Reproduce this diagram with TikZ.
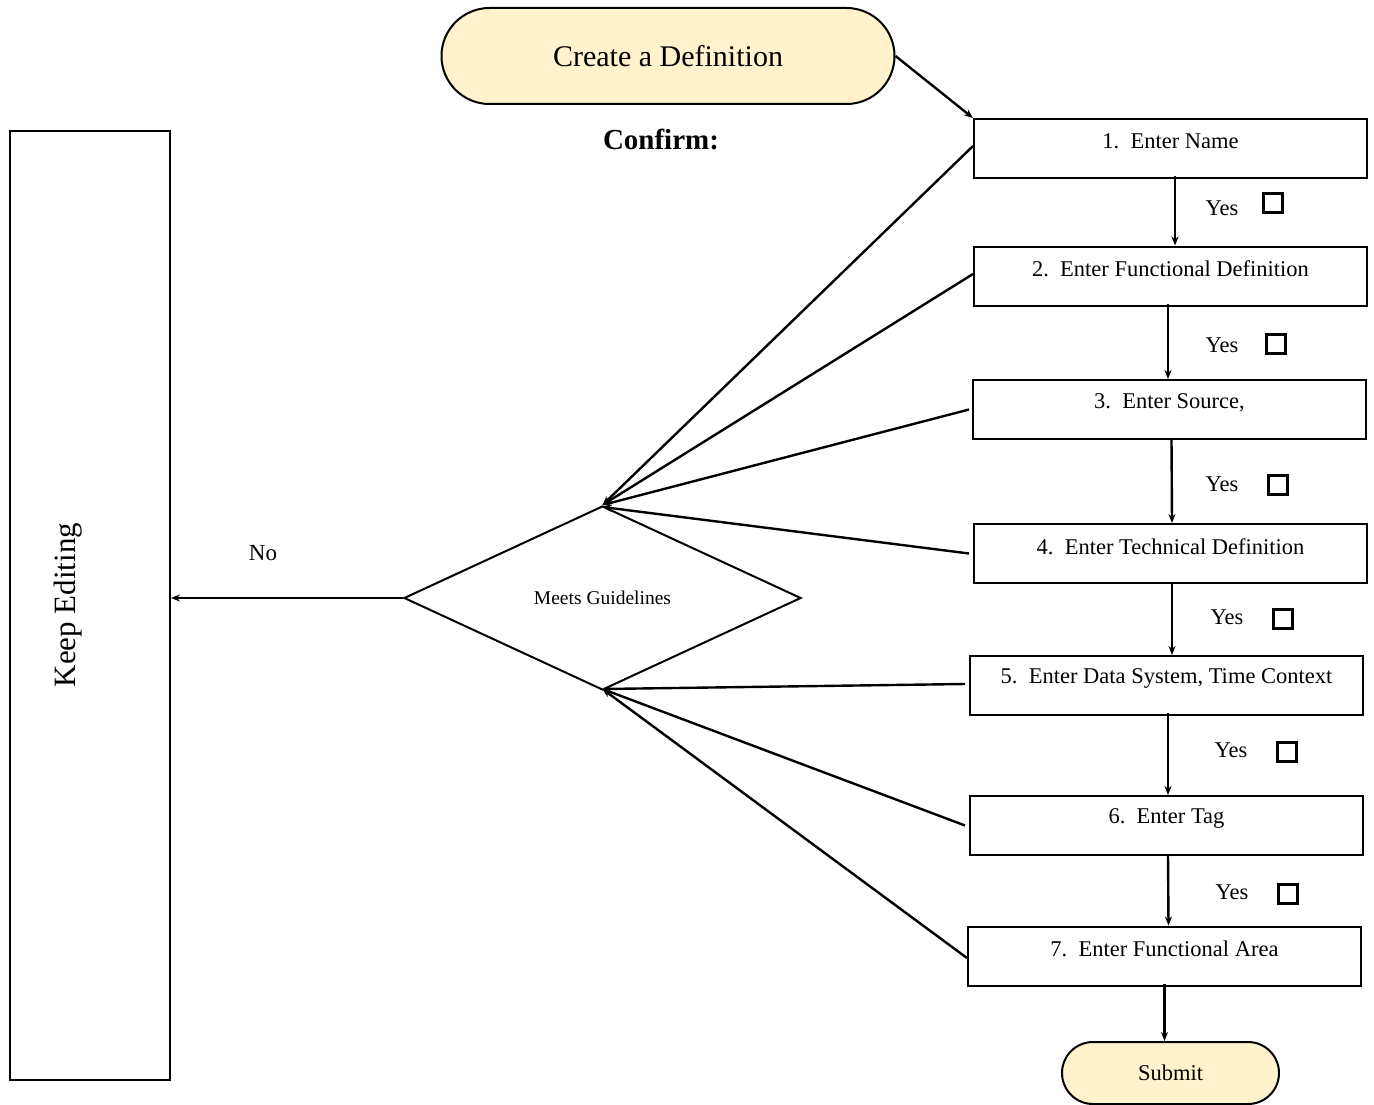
\documentclass[tikz,border=0pt]{standalone}
\usepackage{fontspec}
\setmainfont{Liberation Serif}
\usetikzlibrary{shapes.geometric,arrows.meta}
\definecolor{termfill}{RGB}{255,242,204}
\begin{document}
\begin{tikzpicture}[x=1pt,y=-1pt,
  stepbox/.style={draw,line width=2pt,minimum width=393pt,minimum height=59pt,inner sep=0pt},
  boxtext/.style={font=\fontsize{22.5}{26}\selectfont,inner sep=0pt},
  term/.style={draw,line width=2pt,fill=termfill,inner sep=0pt},
  arr/.style={line width=2.4pt,-{Stealth[length=9pt,width=7pt]}},
  yestext/.style={font=\fontsize{22.5}{26}\selectfont,inner sep=0pt},
  chk/.style={draw,line width=3pt,minimum width=19pt,minimum height=19pt,inner sep=0pt}
]
\useasboundingbox (0,0) rectangle (1374,1105);

% start terminal
\node[term,minimum width=453pt,minimum height=96pt,rounded corners=48pt,
  font=\fontsize{30}{34}\selectfont] (start) at (668,56) {Create a Definition};
\node[font=\bfseries\fontsize{29}{33}\selectfont,inner sep=0pt] (confirm) at (661,139) {Confirm:};

% step boxes
\node[stepbox] (b1) at (1170.5,148.5) {};
\node[stepbox] (b2) at (1170.5,276) {};
\node[stepbox] (b3) at (1169.5,409.5) {};
\node[stepbox] (b4) at (1170.5,553.5) {};
\node[stepbox] (b5) at (1166.5,685.5) {};
\node[stepbox] (b6) at (1166.5,825.5) {};
\node[stepbox] (b7) at (1164.5,956) {};

\node[boxtext] (t1) at ([yshift=7pt]b1.center) {1.\ \ Enter Name};
\node[boxtext] (t2) at ([yshift=7pt]b2.center) {2.\ \ Enter Functional Definition};
\node[boxtext] (t3) at ([yshift=7pt]b3.center) {3.\ \ Enter Source,};
\node[boxtext] (t4) at ([yshift=7pt]b4.center) {4.\ \ Enter Technical Definition};
\node[boxtext] (t5) at ([yshift=7pt]b5.center) {5.\ \ Enter Data System, Time Context};
\node[boxtext] (t6) at ([yshift=7pt]b6.center) {6.\ \ Enter Tag};
\node[boxtext] (t7) at ([yshift=7pt]b7.center) {7.\ \ Enter Functional Area};

% submit
\node[term,minimum width=217pt,minimum height=62pt,rounded corners=31pt,
  font=\fontsize{22.5}{26}\selectfont] (submit) at (1170.5,1073) {Submit};

% decision
\node[diamond,draw,line width=2pt,minimum width=397pt,minimum height=184pt,inner sep=0pt,
  font=\fontsize{19.5}{23}\selectfont] (dia) at (602.5,598) {Meets Guidelines};

% keep editing
\node[draw,line width=2pt,minimum width=160pt,minimum height=949pt,inner sep=0pt] (keep) at (90,605.5) {};
\node[rotate=90,font=\fontsize{31}{35}\selectfont,inner sep=0pt] (keeptext) at (68,605) {Keep Editing};
\node[font=\fontsize{23}{27}\selectfont,inner sep=0pt] (no) at (263,553) {No};

% yes labels and checkboxes
\node[yestext] (y1) at (1222,208) {Yes};
\node[chk] (c1) at (1273,203) {};
\node[yestext] (y2) at (1222,345) {Yes};
\node[chk] (c2) at (1276,344) {};
\node[yestext] (y3) at (1222,484) {Yes};
\node[chk] (c3) at (1278,485) {};
\node[yestext] (y4) at (1227,617) {Yes};
\node[chk] (c4) at (1283,619) {};
\node[yestext] (y5) at (1231,750) {Yes};
\node[chk] (c5) at (1287,752) {};
\node[yestext] (y6) at (1232,892) {Yes};
\node[chk] (c6) at (1288,894) {};

% connectors
\draw[arr] (start.east) -- (b1.north west);
\draw[arr] ([xshift=4.5pt,yshift=3pt]b1.south) -- ([xshift=4.5pt]b2.north);
\draw[arr] ([xshift=-2.5pt,yshift=3pt]b2.south) -- ([xshift=-1.5pt]b3.north);
\draw[arr] ([xshift=2pt]b3.south) -- ([xshift=1.5pt]b4.north);
\draw[arr] ([xshift=1.5pt]b4.south) -- ([xshift=5.5pt]b5.north);
\draw[arr] ([xshift=1.5pt,yshift=3pt]b5.south) -- ([xshift=1.5pt]b6.north);
\draw[arr] ([xshift=1.5pt]b6.south) -- ([xshift=4pt]b7.north);
\draw[arr] ([yshift=3pt]b7.south) -- ([xshift=-6pt]submit.north);

\draw[arr] ([yshift=2.5pt]b1.west) -- (dia.north);
\draw[arr] ([yshift=2pt]b2.west) -- (dia.north);
\draw[arr] ([xshift=-3pt]b3.west) -- (dia.north);
\draw[arr] ([xshift=-4pt]b4.west) -- ([yshift=-2pt]dia.north);
\draw[arr] ([xshift=-4pt,yshift=1.5pt]b5.west) -- ([yshift=2pt]dia.south);
\draw[arr] ([xshift=-4pt]b6.west) -- ([yshift=2pt]dia.south);
\draw[arr] ([yshift=-2pt]b7.west) -- ([yshift=2pt]dia.south);

\draw[arr] (dia.west) -- (dia.west -| keep.east);
\end{tikzpicture}
\end{document}
